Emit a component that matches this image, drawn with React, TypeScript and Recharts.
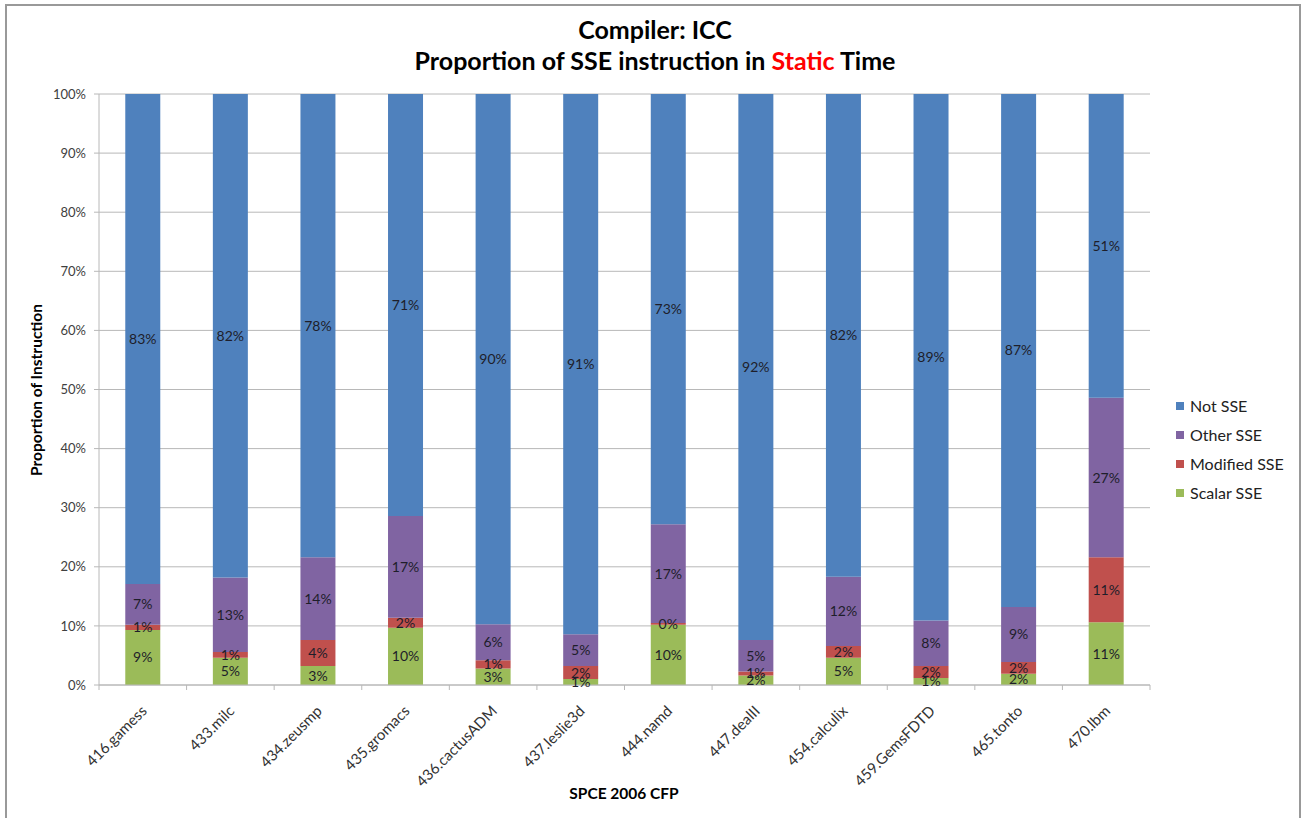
import React from 'react'
import { BarChart, Bar, XAxis, YAxis, CartesianGrid, LabelList } from 'recharts'

const categories = [
  '416.gamess', '433.milc', '434.zeusmp', '435.gromacs', '436.cactusADM', '437.leslie3d',
  '444.namd', '447.dealII', '454.calculix', '459.GemsFDTD', '465.tonto', '470.lbm',
]

// percentage of static instructions, per benchmark
const scalarSse = [9.3, 4.6, 3.2, 9.7, 2.8, 1.0, 10.2, 1.6, 4.6, 1.2, 1.9, 10.6]
const modifiedSse = [0.9, 1.0, 4.4, 1.7, 1.4, 2.2, 0.3, 0.7, 2.0, 2.0, 2.0, 11.0]
const otherSse = [6.9, 12.6, 14.0, 17.2, 6.1, 5.4, 16.7, 5.3, 11.7, 7.7, 9.3, 27.0]
const notSse = [82.9, 81.8, 78.4, 71.4, 89.7, 91.4, 72.8, 92.4, 81.7, 89.1, 86.8, 51.4]

const yTicks = [0, 10, 20, 30, 40, 50, 60, 70, 80, 90, 100]

const series = [
  { key: 'scalar', name: 'Scalar SSE', color: '#9BBB59' },
  { key: 'modified', name: 'Modified SSE', color: '#C0504D' },
  { key: 'other', name: 'Other SSE', color: '#8064A2' },
  { key: 'notSse', name: 'Not SSE', color: '#4F81BD' },
]

const data = categories.map((name, i) => ({
  name,
  scalar: scalarSse[i],
  modified: modifiedSse[i],
  other: otherSse[i],
  notSse: notSse[i],
}))

const FONT = 'Lato, "Open Sans", sans-serif'
const W = 1310
const H = 818
const PLOT_LEFT = 99
const PLOT_RIGHT = 1150
const PLOT_TOP = 94
const PLOT_BOTTOM = 685
const BAND = (PLOT_RIGHT - PLOT_LEFT) / categories.length
const GRAY = '#b8b8b8'

// category labels sit at 45°, tick marks go between the bars
function CategoryTick(props: any) {
  const { x, payload, index } = props
  const tx = x + 5
  const ty = 712
  return (
    <g>
      <line x1={x - BAND / 2} y1={PLOT_BOTTOM} x2={x - BAND / 2} y2={PLOT_BOTTOM + 5} stroke={GRAY} />
      {index === categories.length - 1 && (
        <line x1={x + BAND / 2} y1={PLOT_BOTTOM} x2={x + BAND / 2} y2={PLOT_BOTTOM + 5} stroke={GRAY} />
      )}
      <text
        x={tx}
        y={ty}
        textAnchor="end"
        transform={`rotate(-45, ${tx}, ${ty})`}
        fontSize={15}
        fill="#333"
        fontFamily={FONT}
      >
        {payload.value}
      </text>
    </g>
  )
}

function LegendBox() {
  const items = [...series].reverse()
  return (
    <div
      style={{
        position: 'absolute', left: 1176, top: 391,
        fontFamily: FONT, fontSize: 16, color: '#222',
      }}
    >
      {items.map(s => (
        <div key={s.key} style={{ display: 'flex', alignItems: 'center', height: 29 }}>
          <span style={{ width: 8, height: 8, background: s.color, marginRight: 6, display: 'inline-block' }} />
          {s.name}
        </div>
      ))}
    </div>
  )
}

export default function App() {
  return (
    <div style={{ position: 'absolute', left: 0, top: 0, width: W, height: H, background: '#fff', overflow: 'hidden' }}>
      <div
        style={{
          position: 'absolute', left: 5, top: 4, width: 1292, height: 830,
          borderTop: '2px solid #999', borderLeft: '2px solid #999', borderRight: '2px solid #999',
        }}
      />
      <div
        style={{
          position: 'absolute', left: 0, top: 14, width: W, textAlign: 'center',
          fontFamily: FONT, fontWeight: 700, fontSize: 25, lineHeight: '31px', color: '#000',
        }}
      >
        <div>Compiler: ICC</div>
        <div>
          Proportion of SSE instruction in <span style={{ color: '#FF0000' }}>Static</span> Time
        </div>
      </div>
      <div
        style={{
          position: 'absolute', left: 36, top: 390, transform: 'translate(-50%, -50%) rotate(-90deg)',
          whiteSpace: 'nowrap', fontFamily: FONT, fontWeight: 700, fontSize: 15.5, color: '#000',
        }}
      >
        Proportion of Instruction
      </div>
      <div
        style={{
          position: 'absolute', left: 624, top: 793, transform: 'translate(-50%, -50%)',
          whiteSpace: 'nowrap', fontFamily: FONT, fontWeight: 700, fontSize: 15.5, color: '#000',
        }}
      >
        SPCE 2006 CFP
      </div>
      <LegendBox />
      <div style={{ position: 'absolute', left: 0, top: 0 }}>
        <BarChart
          width={W}
          height={H}
          data={data}
          margin={{ top: PLOT_TOP, right: W - PLOT_RIGHT, left: PLOT_LEFT - 60, bottom: H - PLOT_BOTTOM - 30 }}
          barCategoryGap="30%"
        >
          <CartesianGrid vertical={false} stroke={GRAY} />
          <XAxis
            dataKey="name"
            height={30}
            interval={0}
            tickLine={false}
            axisLine={{ stroke: GRAY }}
            tick={<CategoryTick />}
          />
          <YAxis
            width={60}
            domain={[0, 100]}
            allowDataOverflow
            ticks={yTicks}
            tickFormatter={(v: number) => `${v}%`}
            tick={{ fontSize: 13, fill: '#404040', fontFamily: FONT }}
            tickSize={5}
            tickMargin={8}
            tickLine={{ stroke: GRAY }}
            axisLine={{ stroke: GRAY }}
          />
          {series.map(s => (
            <Bar key={s.key} dataKey={s.key} name={s.name} stackId="a" fill={s.color} isAnimationActive={false}>
              <LabelList
                dataKey={s.key}
                position="center"
                formatter={(v: any) => `${Math.round(Number(v))}%`}
                style={{ fontSize: 14, fill: '#1e1e2a', fontFamily: FONT }}
              />
            </Bar>
          ))}
        </BarChart>
      </div>
    </div>
  )
}
